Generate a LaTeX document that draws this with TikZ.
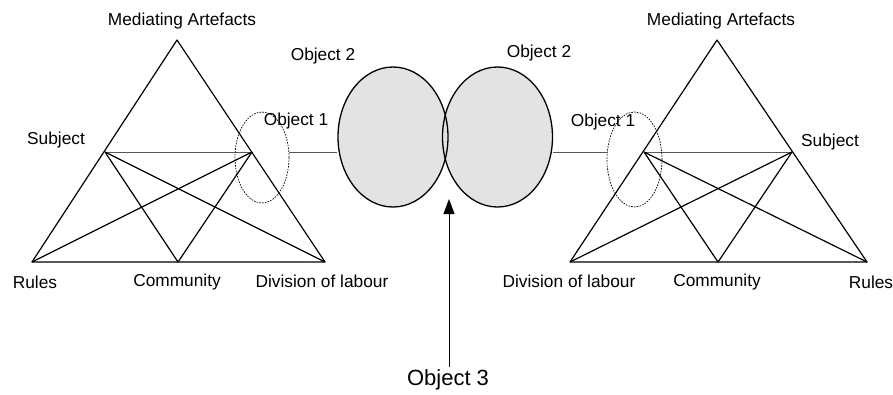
\documentclass[tikz,border=0pt]{standalone}
\usepackage{fontspec}
\setmainfont{Liberation Sans}
\usetikzlibrary{shapes.geometric,arrows.meta}
\begin{document}
\begin{tikzpicture}[x=1pt,y=-1pt,
  lbl/.style={font=\fontsize{17.3}{20}\selectfont, inner sep=0pt},
  biglbl/.style={font=\fontsize{22}{26}\selectfont, inner sep=0pt},
  edge/.style={line width=1.2pt, black, line join=round},
  link/.style={line width=0.8pt, black!65},
  objfill/.style={ellipse, fill=black!11, minimum width=110pt, minimum height=140pt, inner sep=0pt},
  objline/.style={ellipse, draw, line width=1.3pt, minimum width=110pt, minimum height=140pt, inner sep=0pt},
  focus/.style={ellipse, draw, dash pattern=on 1.6pt off 1.2pt, line width=0.7pt, inner sep=0pt}]
\useasboundingbox (0,0) rectangle (893,394);

% ---- left triangle
\coordinate (A1) at (177,40);
\coordinate (R1) at (32,262);
\coordinate (D1) at (325,262);
\coordinate (C1) at (178,262);
\coordinate (S1) at (105,152);
\coordinate (O1) at (252,152);
\draw[edge] (A1) -- (R1) -- (D1) -- cycle;
\draw[link] (S1) -- (O1);
\draw[edge] (S1) -- (C1);
\draw[edge] (S1) -- (D1);
\draw[edge] (O1) -- (R1);
\draw[edge] (O1) -- (C1);

% ---- right triangle
\coordinate (A2) at (717,40);
\coordinate (D2) at (570,262);
\coordinate (R2) at (867,262);
\coordinate (C2) at (718,262);
\coordinate (O2) at (644,152);
\coordinate (S2) at (792,152);
\draw[edge] (A2) -- (D2) -- (R2) -- cycle;
\draw[link] (O2) -- (S2);
\draw[edge] (O2) -- (C2);
\draw[edge] (O2) -- (R2);
\draw[edge] (S2) -- (D2);
\draw[edge] (S2) -- (C2);

% ---- focus (dotted) ellipses
\node[focus, minimum width=54pt, minimum height=91pt] (F1) at (262,157.5) {};
\node[focus, minimum width=55pt, minimum height=95pt] (F2) at (634.5,159.5) {};

% ---- shared objects
\node[objfill] (E1f) at (393,137) {};
\node[objfill] (E2f) at (497.5,137) {};
\node[objline] (E1) at (393,137) {};
\node[objline] (E2) at (497.5,137) {};

% ---- links between objects
\draw[link] (F1.east |- O1) -- (E1.west |- O1);
\draw[link] (E2.east |- O2) -- (F2.west |- O2);

% ---- Object 3 arrow
\node[biglbl] (Obj3) at (448,380) {Object 3};
\coordinate (Tip) at (449,199);
\draw[line width=0.9pt, -{Triangle[length=15pt,width=11pt]}] (Obj3.north -| Tip) ++(0,-3) -- (Tip);

% ---- labels left
\node[lbl] (MA1) at (182,21) {Mediating Artefacts};
\node[lbl] (Sub1) at (56,140) {Subject};
\node[lbl] (Ru1) at (35,282) {Rules};
\node[lbl] (Co1) at (177,282) {Community};
\node[lbl] (Di1) at (322,281) {Division of labour};
\node[lbl] (Ob1a) at (296,121) {Object 1};
\node[lbl] (Ob2a) at (323,56) {Object 2};

% ---- labels right
\node[lbl] (MA2) at (721,21) {Mediating Artefacts};
\node[lbl] (Sub2) at (830,142) {Subject};
\node[lbl] (Ru2) at (871,282) {Rules};
\node[lbl] (Co2) at (717,282) {Community};
\node[lbl] (Di2) at (569,281) {Division of labour};
\node[lbl] (Ob1b) at (603,122) {Object 1};
\node[lbl] (Ob2b) at (539,53) {Object 2};
\end{tikzpicture}
\end{document}
